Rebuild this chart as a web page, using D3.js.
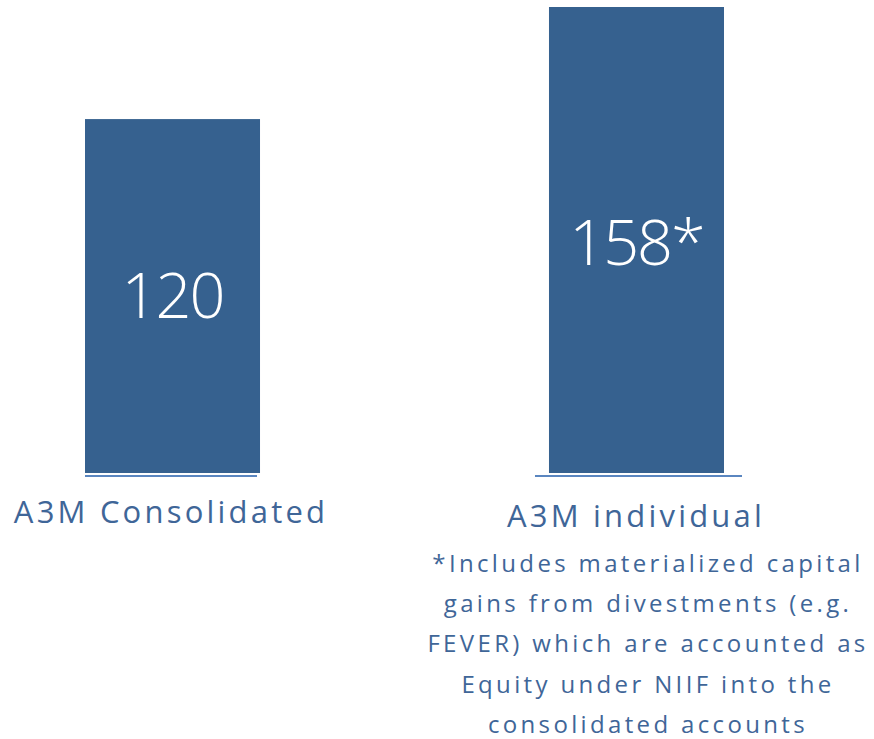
<!DOCTYPE html>
<html><head><meta charset="utf-8">
<script src="https://cdn.jsdelivr.net/npm/d3@7"></script>
<style>
html,body{margin:0;padding:0;background:#fff;}
svg{display:block;}
</style></head>
<body>
<script>
const categories = ["A3M Consolidated", "A3M individual"];
const values = [120, 158];
const valueLabels = ["120", "158*"];
const footnoteLines = [
  "*Includes materialized capital",
  "gains from divestments (e.g.",
  "FEVER) which are accounted as",
  "Equity under NIIF into the",
  "consolidated accounts"
];

const W = 874, H = 739;
const barColor = "#36618f";
const textColor = "#3f6698";
const lineColor = "#5a86c0";
const font = "'Open Sans', 'DejaVu Sans', sans-serif";

const svg = d3.select("body").append("svg").attr("width", W).attr("height", H);

const x = d3.scaleBand().domain(categories).range([85, 724]).paddingInner(0.6228).paddingOuter(0);
const y = d3.scaleLinear().domain([0, 158]).range([473, 7]);

svg.selectAll("rect.bar").data(categories).join("rect")
  .attr("class", "bar")
  .attr("x", d => x(d))
  .attr("y", (d, i) => y(values[i]))
  .attr("width", x.bandwidth())
  .attr("height", (d, i) => y(0) - y(values[i]))
  .attr("fill", barColor);

// baseline underlines
const ext = [[0, -3], [-14, 18]];
svg.selectAll("line.base").data(categories).join("line")
  .attr("class", "base")
  .attr("x1", (d, i) => x(d) + ext[i][0])
  .attr("x2", (d, i) => x(d) + x.bandwidth() + ext[i][1])
  .attr("y1", y(0) + 3).attr("y2", y(0) + 3)
  .attr("stroke", lineColor).attr("stroke-width", 2.2);

// value labels
const labelY = [318, 265];
svg.selectAll("text.val").data(categories).join("text")
  .attr("class", "val")
  .attr("x", d => x(d) + x.bandwidth() / 2)
  .attr("y", (d, i) => labelY[i])
  .attr("text-anchor", "middle")
  .attr("fill", "#fff")
  .attr("font-family", font)
  .attr("font-weight", 300)
  .attr("font-size", 63)
  .attr("letter-spacing", -2)
  .text((d, i) => valueLabels[i]);

// category labels
const catY = [523, 527];
svg.selectAll("text.cat").data(categories).join("text")
  .attr("class", "cat")
  .attr("x", (d, i) => i === 0 ? 171 : 636)
  .attr("y", (d, i) => catY[i])
  .attr("text-anchor", "middle")
  .attr("fill", textColor)
  .attr("font-family", font)
  .attr("font-size", 31)
  .attr("letter-spacing", 3.2)
  .text(d => d);

// footnote
svg.append("g").selectAll("text").data(footnoteLines).join("text")
  .attr("x", 648)
  .attr("y", (d, i) => 572 + i * 40.2)
  .attr("text-anchor", "middle")
  .attr("fill", textColor)
  .attr("font-family", font)
  .attr("font-size", 24)
  .attr("letter-spacing", 3.35)
  .text(d => d);
</script>
</body></html>
